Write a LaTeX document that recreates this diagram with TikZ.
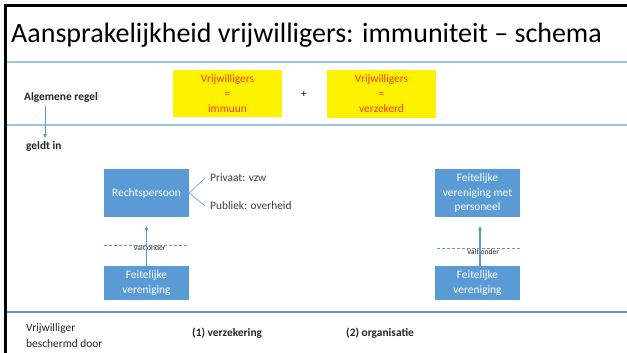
\documentclass[tikz,border=0pt]{standalone}
\usepackage{fontspec}
\setmainfont{Carlito}
\usetikzlibrary{arrows.meta}
\definecolor{boxblue}{RGB}{91,155,213}
\definecolor{lineblue}{RGB}{157,195,230}
\definecolor{darkline}{RGB}{100,150,210}
\definecolor{redtxt}{RGB}{245,60,20}
\definecolor{txtgray}{RGB}{38,38,38}
\tikzset{
  smalltxt/.style={inner sep=0pt, text=txtgray, font=\fontsize{11.4}{14}\selectfont},
  boldtxt/.style={smalltxt, font=\fontsize{11.4}{14}\selectfont\bfseries},
  bluebox/.style={fill=boxblue, text=white, align=center, inner sep=0pt,
    minimum width=85pt, font=\fontsize{11.4}{14.5}\selectfont},
  yellowbox/.style={fill=yellow, text=redtxt, align=center, inner sep=0pt,
    minimum width=109pt, minimum height=47pt, font=\fontsize{11.4}{15}\selectfont},
  connarrow/.style={draw=boxblue, line width=1.1pt, -{Triangle[length=4pt,width=3.6pt]}},
  branch/.style={draw=boxblue, line width=0.6pt},
  dashline/.style={draw=boxblue, line width=0.7pt, dash pattern=on 3pt off 2pt},
  tinylabel/.style={inner sep=0pt, text=txtgray, font=\fontsize{7.6}{9}\selectfont},
  sepline/.style={draw=lineblue, line width=1.5pt},
}
\begin{document}
\begin{tikzpicture}[x=1pt,y=-1pt]
\useasboundingbox (0,0) rectangle (627,353);
\fill[white] (0,0) rectangle (627,353);
% frame
\draw[black, line width=2.4pt] (5.5,353) -- (5.5,5.5) -- (627,5.5);
% title
\node[anchor=base west, inner sep=0pt, font=\fontsize{28}{32}\selectfont] (title) at (11,43)
  {Aansprakelijkheid vrijwilligers: immuniteit -- schema};
% separator lines
\draw[sepline] (6.7,62) -- (627,62);
\draw[sepline] (6.7,125) -- (627,125);
\draw[draw=darkline, line width=1.2pt] (6.7,312) -- (627,312);
% general rule row
\node[boldtxt, anchor=west] (alg) at (24,97) {Algemene regel};
\node[yellowbox] (y1) at (227.5,93.5) {Vrijwilligers\\=\\immuun};
\node[smalltxt, text=black] (plus) at (304,94) {+};
\node[yellowbox] (y2) at (381.5,94) {Vrijwilligers\\=\\verzekerd};
% geldt in
\node[boldtxt, anchor=west] (geldt) at (26,146) {geldt in};
\coordinate (g1) at (45,106);
\coordinate (g2) at (45,138);
\draw[connarrow, line width=0.8pt] (g1) -- (g2);
% left column
\node[bluebox, minimum height=48pt] (rp) at (146.5,193) {Rechtspersoon};
\node[bluebox, minimum height=34pt] (fvL) at (146.5,283) {Feitelijke\\vereniging};
\node[smalltxt, anchor=west, inner xsep=5pt, text=txtgray!90] (priv) at (205,178) {Privaat: vzw};
\node[smalltxt, anchor=west, inner xsep=5pt, text=txtgray!90] (publ) at (205,206) {Publiek: overheid};
\draw[branch] (rp.east) -- (priv.west);
\draw[branch] (rp.east) -- (publ.west);
\coordinate (dL1) at (104,245);
\coordinate (dL2) at (189,245);
\draw[dashline] (dL1) -- (dL2);
\node[tinylabel] (vL) at (149.5,247.5) {Valt onder};
\coordinate (aL) at (146.5,226);
\draw[connarrow] (fvL.north) -- (aL);
% right column
\node[bluebox, minimum height=48pt] (fvp) at (477.5,193) {Feitelijke\\vereniging met\\personeel};
\node[bluebox, minimum height=34pt] (fvR) at (477.5,283) {Feitelijke\\vereniging};
\coordinate (dR1) at (437,248);
\coordinate (dR2) at (521,248);
\draw[dashline] (dR1) -- (dR2);
\node[tinylabel] (vR) at (483,252) {Valt onder};
\coordinate (aR) at (480,226);
\draw[connarrow] (fvR.north -| aR) -- (aR);
% bottom row
\node[smalltxt, anchor=west] (vw1) at (26,329) {Vrijwilliger};
\node[smalltxt, anchor=west] (vw2) at (26,344) {beschermd door};
\node[boldtxt, anchor=west] (p1) at (192,333) {(1) verzekering};
\node[boldtxt, anchor=west] (p2) at (346,333) {(2) organisatie};
\end{tikzpicture}
\end{document}
